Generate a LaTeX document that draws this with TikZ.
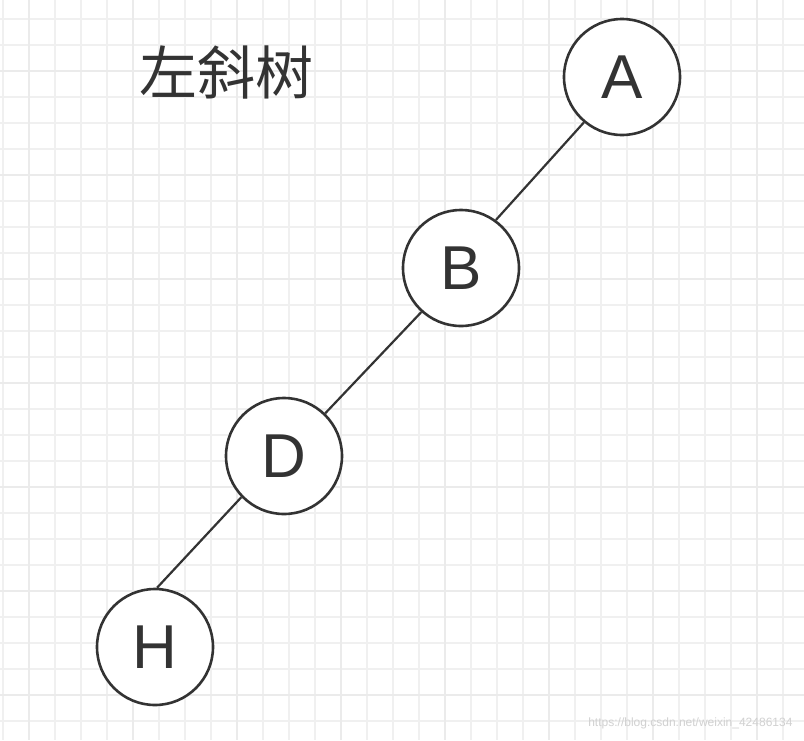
\documentclass[tikz,border=0pt]{standalone}
\usepackage{fontspec}
\setmainfont{Liberation Sans}
\newfontfamily\cjk{Noto Sans CJK SC}
\begin{document}
\begin{tikzpicture}[x=1pt,y=-1pt,
  minorgrid/.style={draw=black!6,line width=1.2pt},
  majorgrid/.style={draw=black!8,line width=2pt},
  treenode/.style={circle,draw=black!80,line width=2.6pt,fill=white,minimum size=116pt,inner sep=0pt,font=\fontsize{62}{62}\selectfont,text=black!80},
  treeedge/.style={draw=black!80,line width=2.2pt}]
\useasboundingbox (0,0) rectangle (804,740);
\fill[white] (0,0) rectangle (804,740);
\foreach \i in {0,...,30}{
  \draw[minorgrid] (3+26*\i,0) -- (3+26*\i,740);
}
\foreach \i in {0,...,28}{
  \draw[minorgrid] (0,-7+26*\i) -- (804,-7+26*\i);
}
\foreach \i in {0,...,7}{
  \draw[majorgrid] (29+104*\i,0) -- (29+104*\i,740);
}
\foreach \i in {0,...,7}{
  \draw[majorgrid] (0,-33+104*\i) -- (804,-33+104*\i);
}
\node[font=\cjk\fontsize{58}{58}\selectfont,text=black!80] (title) at (226,72) {左斜树};
\node[treenode] (A) at (622,77) {A};
\node[treenode] (B) at (461,268) {B};
\node[treenode] (D) at (284,456) {D};
\node[treenode] (H) at (155,647) {H};
\draw[treeedge] (A.230) -- (B.54);
\draw[treeedge] (B.228) -- (D.46);
\draw[treeedge] (D.224) -- (H.88);
\node[anchor=east,font=\fontsize{12}{12}\selectfont,text=black!18] (wm) at (796,723) {https://blog.csdn.net/weixin\_42486134};
\end{tikzpicture}
\end{document}
